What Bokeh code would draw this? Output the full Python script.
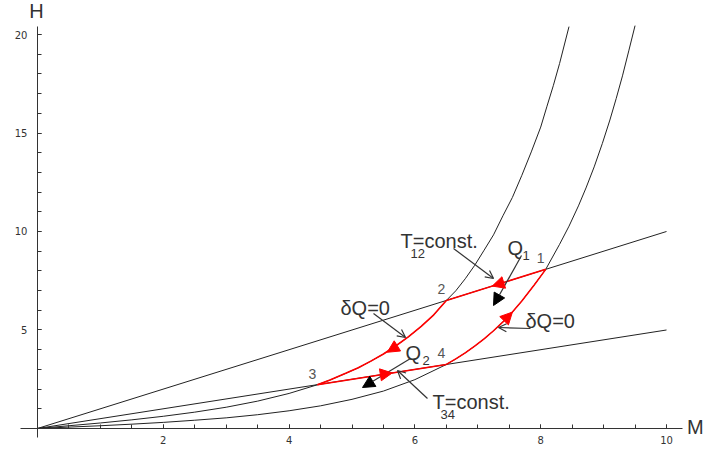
from bokeh.plotting import figure
from bokeh.models import Range1d, FixedTicker, Arrow, NormalHead, OpenHead
from bokeh.core.properties import value
from bokeh.embed import file_html
from bokeh.resources import INLINE

# ---------------- data ----------------
iso_M = [0, 10]
iso12_H = [0, 10]
iso34_H = [0, 5]

adL_M = [0, 0.5, 1, 1.5, 2, 2.5, 3, 3.5, 4, 4.45, 4.65, 4.9, 5.1, 5.3, 5.5, 5.7, 5.9, 6.1, 6.3, 6.5,
         6.65, 6.8, 6.95, 7.1, 7.25, 7.4, 7.55, 7.7, 7.85, 8.0, 8.1, 8.2, 8.3, 8.45]
adL_H = [0, 0.14, 0.28, 0.44, 0.62, 0.83, 1.08, 1.39, 1.78, 2.22, 2.46, 2.8, 3.08, 3.42, 3.78, 4.2, 4.66, 5.18, 5.77, 6.5,
         6.99, 7.6, 8.28, 9.05, 9.83, 10.8, 11.73, 12.85, 14.04, 15.3, 16.36, 17.4, 18.53, 20.4]

adR_M = [0, 0.5, 1, 1.5, 2, 2.5, 3, 3.5, 4, 4.5, 5, 5.5, 6, 6.5, 6.65, 6.8, 6.95, 7.1,
         7.25, 7.4, 7.55, 7.7, 7.9, 8.08, 8.3, 8.45, 8.6, 8.72, 8.85, 8.98, 9.1, 9.2, 9.3, 9.4, 9.5]
adR_H = [0, 0.07, 0.14, 0.22, 0.31, 0.42, 0.54, 0.70, 0.90, 1.15, 1.48, 1.9, 2.48, 3.25, 3.53, 3.84, 4.18, 4.55,
         4.96, 5.41, 5.91, 6.47, 7.30, 8.08, 9.35, 10.27, 11.3, 12.21, 13.28, 14.47, 15.66, 16.75, 17.9, 19.17, 20.45]

cycle_labels = ["1", "2", "3", "4"]
cycle_M = [8.08, 6.5, 4.45, 6.5]
cycle_H = [8.08, 6.5, 2.22, 3.25]

x_ticks = [2, 4, 6, 8, 10]
x_minor = [0.5 * i for i in range(1, 21)]
y_ticks = [5, 10, 15, 20]
y_minor = list(range(1, 21))

# ---------------- figure ----------------
W, H = 703, 454
p = figure(width=W, height=H, output_backend="svg", toolbar_location=None,
           x_range=Range1d(-0.588, 10.588), y_range=Range1d(-1.320, 21.726),
           min_border=0, min_border_left=0, min_border_right=0,
           min_border_top=0, min_border_bottom=0)
p.outline_line_color = None
p.xgrid.visible = False
p.ygrid.visible = False
p.background_fill_color = "white"
p.border_fill_color = "white"

for ax, ticks, minor, bnds in ((p.xaxis[0], x_ticks, x_minor, (-0.27, 10.25)),
                               (p.yaxis[0], y_ticks, y_minor, (-0.46, 20.4))):
    ax.fixed_location = 0
    ax.bounds = bnds
    ax.ticker = FixedTicker(ticks=ticks, minor_ticks=minor)
    ax.axis_line_color = "#333333"
    ax.axis_line_width = 1
    ax.major_tick_in = 4
    ax.major_tick_out = 0
    ax.minor_tick_in = 4
    ax.minor_tick_out = 0
    ax.major_tick_line_color = "#333333"
    ax.minor_tick_line_color = "#333333"
    ax.major_label_text_font = "DejaVu Sans"
    ax.major_label_text_font_size = "10px"
    ax.major_label_text_color = "#333333"
p.xaxis.major_label_standoff = 8
p.yaxis.major_label_standoff = 10

black = "#222222"
red = "#ff0000"

# isotherms and adiabats
p.line(iso_M, iso12_H, line_color=black, line_width=1)
p.line(iso_M, iso34_H, line_color=black, line_width=1)
p.line(adL_M, adL_H, line_color=black, line_width=1)
p.line(adR_M, adR_H, line_color=black, line_width=1)

# red cycle
seg23 = [(m, h) for m, h in zip(adL_M, adL_H) if cycle_M[2] <= m <= cycle_M[1]]
seg41 = [(m, h) for m, h in zip(adR_M, adR_H) if cycle_M[3] <= m <= cycle_M[0]]
p.line([cycle_M[0], cycle_M[1]], [cycle_H[0], cycle_H[1]], line_color=red, line_width=1.5)
p.line([m for m, h in seg23], [h for m, h in seg23], line_color=red, line_width=1.6)
p.line([cycle_M[2], cycle_M[3]], [cycle_H[2], cycle_H[3]], line_color=red, line_width=1.5)
p.line([m for m, h in seg41], [h for m, h in seg41], line_color=red, line_width=1.5)

# point labels
p.text(x=cycle_M, y=cycle_H, text=cycle_labels, text_font=value("Liberation Sans"),
       text_font_size="14px", text_color="#555555", text_align="center",
       text_baseline="middle", x_offset=-5, y_offset=-11)

# axis labels
p.text(x=[-0.016], y=[21.17], text=["H"], text_font=value("Liberation Sans"),
       text_font_size="20px", text_color="#333333", text_align="center", text_baseline="middle")
p.text(x=[10.46], y=[0.1], text=["M"], text_font=value("Liberation Sans"),
       text_font_size="20px", text_color="#333333", text_align="center", text_baseline="middle")

def txt(x, y, s, size="20px", color="#333333"):
    p.text(x=[x], y=[y], text=[s], text_font=value("Liberation Sans"), text_font_size=size,
           text_color=color, text_align="left", text_baseline="alphabetic")

txt(5.771, 9.543, "T=const.")
txt(5.93, 8.88, "12", size="13px")
txt(7.472, 9.137, "Q")
txt(7.71, 8.78, "1", size="13px")
txt(4.817, 6.142, "\u03b4Q=0")
txt(7.758, 5.482, "\u03b4Q=0")
txt(5.851, 3.807, "Q")
txt(6.121, 3.452, "2", size="13px")
txt(6.28, 1.32, "T=const.")
txt(6.407, 0.711, "34", size="13px")

# annotation arrows (thin, open heads)
def open_arrow(x0, y0, x1, y1):
    p.add_layout(Arrow(end=OpenHead(size=8, line_color="#333333", line_width=1.2),
                       x_start=x0, y_start=y0, x_end=x1, y_end=y1,
                       line_color="#333333", line_width=1.2))

open_arrow(6.614, 9.137, 7.25, 7.614)
open_arrow(5.342, 5.838, 5.851, 4.619)
open_arrow(7.838, 5.076, 7.329, 5.127)
open_arrow(6.2, 1.523, 5.723, 2.944)

# heat-flow arrows (filled black heads)
def filled_arrow(x0, y0, x1, y1):
    p.add_layout(Arrow(end=NormalHead(size=12, fill_color="black", line_color="black", line_width=1),
                       x_start=x0, y_start=y0, x_end=x1, y_end=y1,
                       line_color="#333333", line_width=1.2))

filled_arrow(7.695, 8.782, 7.25, 6.244)
filled_arrow(5.93, 3.553, 5.167, 2.081)

# red direction arrowheads on the cycle
def red_head(x0, y0, x1, y1):
    p.add_layout(Arrow(end=NormalHead(size=12, fill_color=red, line_color=red, line_width=1),
                       x_start=x0, y_start=y0, x_end=x1, y_end=y1,
                       line_alpha=0))

red_head(7.6, 7.6, 7.23, 7.23)
red_head(5.75, 4.25, 5.56, 3.87)
red_head(5.3, 2.65, 5.64, 2.82)
red_head(7.4, 5.41, 7.55, 5.91)

open("out.html", "w").write(file_html(p, INLINE))
